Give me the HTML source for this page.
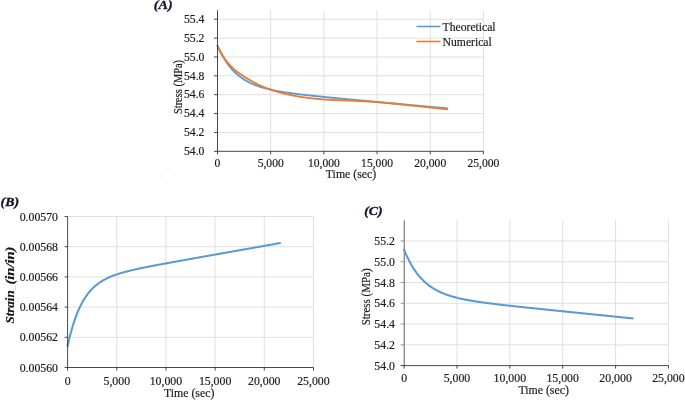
<!DOCTYPE html>
<html><head><meta charset="utf-8"><title>Stress and strain vs time</title>
<style>html,body{margin:0;padding:0;background:#fff;}body{width:685px;height:400px;overflow:hidden;font-family:"Liberation Serif",serif;}svg{display:block;will-change:transform;opacity:0.999}</style>
</head><body>
<svg width="685" height="400" viewBox="0 0 685 400">
<rect width="685" height="400" fill="#fff"/>
<g font-family="'Liberation Serif', serif" fill="#1c1c1c" stroke="#1c1c1c" stroke-width="0.18">
<line x1="270.69" y1="10.21" x2="270.69" y2="151.30" stroke="#dcdcdc" stroke-width="0.9"/>
<line x1="323.88" y1="10.21" x2="323.88" y2="151.30" stroke="#dcdcdc" stroke-width="0.9"/>
<line x1="377.07" y1="10.21" x2="377.07" y2="151.30" stroke="#dcdcdc" stroke-width="0.9"/>
<line x1="430.26" y1="10.21" x2="430.26" y2="151.30" stroke="#dcdcdc" stroke-width="0.9"/>
<line x1="483.45" y1="10.21" x2="483.45" y2="151.30" stroke="#dcdcdc" stroke-width="0.9"/>
<line x1="217.50" y1="132.43" x2="483.45" y2="132.43" stroke="#dcdcdc" stroke-width="0.9"/>
<line x1="217.50" y1="113.56" x2="483.45" y2="113.56" stroke="#dcdcdc" stroke-width="0.9"/>
<line x1="217.50" y1="94.69" x2="483.45" y2="94.69" stroke="#dcdcdc" stroke-width="0.9"/>
<line x1="217.50" y1="75.82" x2="483.45" y2="75.82" stroke="#dcdcdc" stroke-width="0.9"/>
<line x1="217.50" y1="56.95" x2="483.45" y2="56.95" stroke="#dcdcdc" stroke-width="0.9"/>
<line x1="217.50" y1="38.08" x2="483.45" y2="38.08" stroke="#dcdcdc" stroke-width="0.9"/>
<line x1="217.50" y1="19.21" x2="483.45" y2="19.21" stroke="#dcdcdc" stroke-width="0.9"/>
<path d="M217.50,45.91 L218.03,47.10 L218.56,48.26 L219.10,49.38 L219.63,50.48 L220.16,51.55 L220.69,52.59 L221.22,53.60 L221.76,54.58 L222.29,55.54 L222.82,56.48 L223.35,57.39 L223.88,58.28 L224.41,59.14 L224.95,59.98 L225.48,60.80 L226.01,61.60 L226.54,62.38 L227.07,63.14 L227.61,63.87 L228.14,64.59 L228.67,65.29 L229.20,65.98 L229.73,66.64 L230.27,67.29 L230.80,67.92 L231.33,68.54 L231.86,69.14 L232.39,69.72 L232.93,70.30 L233.46,70.85 L233.99,71.39 L234.52,71.92 L235.05,72.44 L235.58,72.94 L236.12,73.43 L236.65,73.91 L237.18,74.37 L237.71,74.83 L238.24,75.27 L238.78,75.71 L239.31,76.13 L239.84,76.54 L240.37,76.94 L240.90,77.33 L241.44,77.72 L241.97,78.09 L242.50,78.45 L243.03,78.81 L243.56,79.16 L244.09,79.50 L244.63,79.83 L245.16,80.15 L245.69,80.47 L246.22,80.78 L246.75,81.08 L247.29,81.37 L247.82,81.66 L248.35,81.94 L248.88,82.22 L249.41,82.49 L249.95,82.75 L250.48,83.00 L251.01,83.26 L251.54,83.50 L252.07,83.74 L252.61,83.98 L253.14,84.20 L253.67,84.43 L254.20,84.65 L254.73,84.86 L255.26,85.07 L255.80,85.28 L256.33,85.48 L256.86,85.68 L257.39,85.87 L257.92,86.06 L258.46,86.25 L258.99,86.43 L259.52,86.61 L260.05,86.78 L260.58,86.95 L261.12,87.12 L261.65,87.29 L262.18,87.45 L262.71,87.61 L263.24,87.76 L263.78,87.91 L264.31,88.06 L264.84,88.21 L265.37,88.35 L265.90,88.50 L266.43,88.63 L266.97,88.77 L267.50,88.90 L268.03,89.04 L268.56,89.17 L269.09,89.29 L269.63,89.42 L270.16,89.54 L270.69,89.66 L271.22,89.78 L271.75,89.90 L272.29,90.01 L272.82,90.13 L273.35,90.24 L273.88,90.35 L274.41,90.45 L274.95,90.56 L275.48,90.67 L276.01,90.77 L276.54,90.87 L277.07,90.97 L277.60,91.07 L278.14,91.17 L278.67,91.26 L279.20,91.36 L279.73,91.45 L280.26,91.54 L280.80,91.64 L281.33,91.73 L281.86,91.81 L282.39,91.90 L282.92,91.99 L283.46,92.07 L283.99,92.16 L284.52,92.24 L285.05,92.33 L285.58,92.41 L286.12,92.49 L286.65,92.57 L287.18,92.65 L287.71,92.73 L288.24,92.80 L288.77,92.88 L289.31,92.96 L289.84,93.03 L290.37,93.11 L290.90,93.18 L291.43,93.25 L291.97,93.32 L292.50,93.40 L293.03,93.47 L293.56,93.54 L294.09,93.61 L294.63,93.68 L295.16,93.75 L295.69,93.81 L296.22,93.88 L296.75,93.95 L297.28,94.02 L297.82,94.08 L298.35,94.15 L298.88,94.21 L299.41,94.28 L299.94,94.34 L300.48,94.41 L301.01,94.47 L301.54,94.53 L302.07,94.59 L302.60,94.66 L303.14,94.72 L303.67,94.78 L304.20,94.84 L304.73,94.90 L305.26,94.96 L305.80,95.02 L306.33,95.08 L306.86,95.14 L307.39,95.20 L307.92,95.26 L308.45,95.32 L308.99,95.38 L309.52,95.44 L310.05,95.49 L310.58,95.55 L311.11,95.61 L311.65,95.67 L312.18,95.72 L312.71,95.78 L313.24,95.84 L313.77,95.89 L314.31,95.95 L314.84,96.01 L315.37,96.06 L315.90,96.12 L316.43,96.17 L316.97,96.23 L317.50,96.28 L318.03,96.34 L318.56,96.39 L319.09,96.45 L319.62,96.50 L320.16,96.55 L320.69,96.61 L321.22,96.66 L321.75,96.72 L322.28,96.77 L322.82,96.82 L323.35,96.88 L323.88,96.93 L324.41,96.98 L324.94,97.04 L325.48,97.09 L326.01,97.14 L326.54,97.19 L327.07,97.25 L327.60,97.30 L328.14,97.35 L328.67,97.40 L329.20,97.46 L329.73,97.51 L330.26,97.56 L330.79,97.61 L331.33,97.66 L331.86,97.72 L332.39,97.77 L332.92,97.82 L333.45,97.87 L333.99,97.92 L334.52,97.97 L335.05,98.02 L335.58,98.07 L336.11,98.13 L336.65,98.18 L337.18,98.23 L337.71,98.28 L338.24,98.33 L338.77,98.38 L339.31,98.43 L339.84,98.48 L340.37,98.53 L340.90,98.58 L341.43,98.63 L341.96,98.68 L342.50,98.73 L343.03,98.79 L343.56,98.84 L344.09,98.89 L344.62,98.94 L345.16,98.99 L345.69,99.04 L346.22,99.09 L346.75,99.14 L347.28,99.19 L347.82,99.24 L348.35,99.29 L348.88,99.34 L349.41,99.39 L349.94,99.44 L350.48,99.49 L351.01,99.54 L351.54,99.59 L352.07,99.64 L352.60,99.69 L353.13,99.74 L353.67,99.79 L354.20,99.83 L354.73,99.88 L355.26,99.93 L355.79,99.98 L356.33,100.03 L356.86,100.08 L357.39,100.13 L357.92,100.18 L358.45,100.23 L358.99,100.28 L359.52,100.33 L360.05,100.38 L360.58,100.43 L361.11,100.48 L361.64,100.53 L362.18,100.58 L362.71,100.63 L363.24,100.68 L363.77,100.73 L364.30,100.77 L364.84,100.82 L365.37,100.87 L365.90,100.92 L366.43,100.97 L366.96,101.02 L367.50,101.07 L368.03,101.12 L368.56,101.17 L369.09,101.22 L369.62,101.27 L370.16,101.32 L370.69,101.37 L371.22,101.41 L371.75,101.46 L372.28,101.51 L372.81,101.56 L373.35,101.61 L373.88,101.66 L374.41,101.71 L374.94,101.76 L375.47,101.81 L376.01,101.86 L376.54,101.91 L377.07,101.95 L377.60,102.00 L378.13,102.05 L378.67,102.10 L379.20,102.15 L379.73,102.20 L380.26,102.25 L380.79,102.30 L381.33,102.35 L381.86,102.40 L382.39,102.44 L382.92,102.49 L383.45,102.54 L383.98,102.59 L384.52,102.64 L385.05,102.69 L385.58,102.74 L386.11,102.79 L386.64,102.84 L387.18,102.89 L387.71,102.93 L388.24,102.98 L388.77,103.03 L389.30,103.08 L389.84,103.13 L390.37,103.18 L390.90,103.23 L391.43,103.28 L391.96,103.33 L392.50,103.37 L393.03,103.42 L393.56,103.47 L394.09,103.52 L394.62,103.57 L395.15,103.62 L395.69,103.67 L396.22,103.72 L396.75,103.77 L397.28,103.81 L397.81,103.86 L398.35,103.91 L398.88,103.96 L399.41,104.01 L399.94,104.06 L400.47,104.11 L401.01,104.16 L401.54,104.21 L402.07,104.25 L402.60,104.30 L403.13,104.35 L403.66,104.40 L404.20,104.45 L404.73,104.50 L405.26,104.55 L405.79,104.60 L406.32,104.65 L406.86,104.69 L407.39,104.74 L407.92,104.79 L408.45,104.84 L408.98,104.89 L409.52,104.94 L410.05,104.99 L410.58,105.04 L411.11,105.08 L411.64,105.13 L412.18,105.18 L412.71,105.23 L413.24,105.28 L413.77,105.33 L414.30,105.38 L414.83,105.43 L415.37,105.48 L415.90,105.52 L416.43,105.57 L416.96,105.62 L417.49,105.67 L418.03,105.72 L418.56,105.77 L419.09,105.82 L419.62,105.87 L420.15,105.91 L420.69,105.96 L421.22,106.01 L421.75,106.06 L422.28,106.11 L422.81,106.16 L423.35,106.21 L423.88,106.26 L424.41,106.30 L424.94,106.35 L425.47,106.40 L426.00,106.45 L426.54,106.50 L427.07,106.55 L427.60,106.60 L428.13,106.65 L428.66,106.70 L429.20,106.74 L429.73,106.79 L430.26,106.84 L430.79,106.89 L431.32,106.94 L431.86,106.99 L432.39,107.04 L432.92,107.09 L433.45,107.13 L433.98,107.18 L434.52,107.23 L435.05,107.28 L435.58,107.33 L436.11,107.38 L436.64,107.43 L437.17,107.48 L437.71,107.52 L438.24,107.57 L438.77,107.62 L439.30,107.67 L439.83,107.72 L440.37,107.77 L440.90,107.82 L441.43,107.87 L441.96,107.92 L442.49,107.96 L443.03,108.01 L443.56,108.06 L444.09,108.11 L444.62,108.16 L445.15,108.21 L445.69,108.26 L446.22,108.31 L446.75,108.35 L447.28,108.40" fill="none" stroke="#5b9bd5" stroke-width="1.9" stroke-linejoin="round" stroke-linecap="round"/>
<path d="M217.50,45.91 L218.03,47.02 L218.56,48.10 L219.10,49.15 L219.63,50.17 L220.16,51.16 L220.69,52.13 L221.22,53.06 L221.76,53.97 L222.29,54.86 L222.82,55.72 L223.35,56.55 L223.88,57.36 L224.41,58.15 L224.95,58.92 L225.48,59.66 L226.01,60.39 L226.54,61.09 L227.07,61.78 L227.61,62.44 L228.14,63.09 L228.67,63.72 L229.20,64.33 L229.73,64.92 L230.27,65.50 L230.80,66.06 L231.33,66.61 L231.86,67.14 L232.39,67.65 L232.93,68.16 L233.46,68.65 L233.99,69.13 L234.52,69.59 L235.05,70.05 L235.58,70.49 L236.12,70.93 L236.65,71.35 L237.18,71.77 L237.71,72.18 L238.24,72.57 L238.78,72.97 L239.31,73.35 L239.84,73.73 L240.37,74.10 L240.90,74.47 L241.44,74.83 L241.97,75.19 L242.50,75.54 L243.03,75.89 L243.56,76.23 L244.09,76.57 L244.63,76.91 L245.16,77.25 L245.69,77.58 L246.22,77.91 L246.75,78.24 L247.29,78.57 L247.82,78.89 L248.35,79.21 L248.88,79.53 L249.41,79.85 L249.95,80.16 L250.48,80.47 L251.01,80.78 L251.54,81.08 L252.07,81.38 L252.61,81.68 L253.14,81.97 L253.67,82.26 L254.20,82.55 L254.73,82.83 L255.26,83.11 L255.80,83.39 L256.33,83.66 L256.86,83.93 L257.39,84.20 L257.92,84.46 L258.46,84.72 L258.99,84.97 L259.52,85.22 L260.05,85.46 L260.58,85.70 L261.12,85.94 L261.65,86.17 L262.18,86.40 L262.71,86.63 L263.24,86.85 L263.78,87.07 L264.31,87.29 L264.84,87.50 L265.37,87.71 L265.90,87.92 L266.43,88.12 L266.97,88.33 L267.50,88.52 L268.03,88.72 L268.56,88.91 L269.09,89.10 L269.63,89.29 L270.16,89.48 L270.69,89.66 L271.22,89.84 L271.75,90.02 L272.29,90.20 L272.82,90.37 L273.35,90.54 L273.88,90.71 L274.41,90.88 L274.95,91.04 L275.48,91.20 L276.01,91.36 L276.54,91.52 L277.07,91.68 L277.60,91.83 L278.14,91.99 L278.67,92.14 L279.20,92.29 L279.73,92.43 L280.26,92.58 L280.80,92.72 L281.33,92.86 L281.86,93.00 L282.39,93.14 L282.92,93.27 L283.46,93.41 L283.99,93.54 L284.52,93.67 L285.05,93.80 L285.58,93.92 L286.12,94.05 L286.65,94.17 L287.18,94.29 L287.71,94.41 L288.24,94.53 L288.77,94.65 L289.31,94.76 L289.84,94.88 L290.37,94.99 L290.90,95.10 L291.43,95.21 L291.97,95.32 L292.50,95.42 L293.03,95.53 L293.56,95.63 L294.09,95.73 L294.63,95.83 L295.16,95.93 L295.69,96.03 L296.22,96.12 L296.75,96.22 L297.28,96.31 L297.82,96.40 L298.35,96.49 L298.88,96.58 L299.41,96.67 L299.94,96.75 L300.48,96.84 L301.01,96.92 L301.54,97.01 L302.07,97.09 L302.60,97.17 L303.14,97.25 L303.67,97.32 L304.20,97.40 L304.73,97.48 L305.26,97.55 L305.80,97.62 L306.33,97.70 L306.86,97.77 L307.39,97.84 L307.92,97.90 L308.45,97.97 L308.99,98.04 L309.52,98.10 L310.05,98.16 L310.58,98.23 L311.11,98.29 L311.65,98.35 L312.18,98.41 L312.71,98.47 L313.24,98.52 L313.77,98.58 L314.31,98.64 L314.84,98.69 L315.37,98.74 L315.90,98.80 L316.43,98.85 L316.97,98.90 L317.50,98.95 L318.03,98.99 L318.56,99.04 L319.09,99.09 L319.62,99.13 L320.16,99.18 L320.69,99.22 L321.22,99.27 L321.75,99.31 L322.28,99.35 L322.82,99.39 L323.35,99.43 L323.88,99.47 L324.41,99.51 L324.94,99.54 L325.48,99.58 L326.01,99.62 L326.54,99.65 L327.07,99.69 L327.60,99.72 L328.14,99.75 L328.67,99.78 L329.20,99.81 L329.73,99.84 L330.26,99.87 L330.79,99.90 L331.33,99.93 L331.86,99.96 L332.39,99.99 L332.92,100.01 L333.45,100.04 L333.99,100.06 L334.52,100.09 L335.05,100.11 L335.58,100.14 L336.11,100.16 L336.65,100.18 L337.18,100.21 L337.71,100.23 L338.24,100.25 L338.77,100.27 L339.31,100.29 L339.84,100.32 L340.37,100.34 L340.90,100.36 L341.43,100.38 L341.96,100.40 L342.50,100.42 L343.03,100.44 L343.56,100.46 L344.09,100.48 L344.62,100.50 L345.16,100.52 L345.69,100.54 L346.22,100.55 L346.75,100.57 L347.28,100.59 L347.82,100.61 L348.35,100.63 L348.88,100.65 L349.41,100.67 L349.94,100.69 L350.48,100.71 L351.01,100.73 L351.54,100.75 L352.07,100.77 L352.60,100.80 L353.13,100.82 L353.67,100.84 L354.20,100.86 L354.73,100.88 L355.26,100.90 L355.79,100.93 L356.33,100.95 L356.86,100.97 L357.39,101.00 L357.92,101.02 L358.45,101.04 L358.99,101.07 L359.52,101.09 L360.05,101.12 L360.58,101.14 L361.11,101.17 L361.64,101.20 L362.18,101.22 L362.71,101.25 L363.24,101.28 L363.77,101.30 L364.30,101.33 L364.84,101.36 L365.37,101.39 L365.90,101.42 L366.43,101.45 L366.96,101.48 L367.50,101.51 L368.03,101.54 L368.56,101.57 L369.09,101.60 L369.62,101.63 L370.16,101.67 L370.69,101.70 L371.22,101.73 L371.75,101.77 L372.28,101.80 L372.81,101.84 L373.35,101.88 L373.88,101.91 L374.41,101.95 L374.94,101.99 L375.47,102.03 L376.01,102.06 L376.54,102.10 L377.07,102.14 L377.60,102.18 L378.13,102.23 L378.67,102.27 L379.20,102.31 L379.73,102.35 L380.26,102.40 L380.79,102.44 L381.33,102.48 L381.86,102.53 L382.39,102.57 L382.92,102.62 L383.45,102.67 L383.98,102.71 L384.52,102.76 L385.05,102.81 L385.58,102.86 L386.11,102.91 L386.64,102.96 L387.18,103.01 L387.71,103.06 L388.24,103.11 L388.77,103.16 L389.30,103.21 L389.84,103.26 L390.37,103.31 L390.90,103.36 L391.43,103.42 L391.96,103.47 L392.50,103.52 L393.03,103.58 L393.56,103.63 L394.09,103.68 L394.62,103.74 L395.15,103.79 L395.69,103.85 L396.22,103.90 L396.75,103.96 L397.28,104.01 L397.81,104.07 L398.35,104.13 L398.88,104.18 L399.41,104.24 L399.94,104.29 L400.47,104.35 L401.01,104.41 L401.54,104.46 L402.07,104.52 L402.60,104.58 L403.13,104.64 L403.66,104.69 L404.20,104.75 L404.73,104.81 L405.26,104.86 L405.79,104.92 L406.32,104.98 L406.86,105.04 L407.39,105.09 L407.92,105.15 L408.45,105.21 L408.98,105.27 L409.52,105.32 L410.05,105.38 L410.58,105.44 L411.11,105.50 L411.64,105.55 L412.18,105.61 L412.71,105.67 L413.24,105.73 L413.77,105.78 L414.30,105.84 L414.83,105.90 L415.37,105.95 L415.90,106.01 L416.43,106.07 L416.96,106.12 L417.49,106.18 L418.03,106.24 L418.56,106.30 L419.09,106.35 L419.62,106.41 L420.15,106.47 L420.69,106.52 L421.22,106.58 L421.75,106.64 L422.28,106.69 L422.81,106.75 L423.35,106.81 L423.88,106.86 L424.41,106.92 L424.94,106.98 L425.47,107.03 L426.00,107.09 L426.54,107.15 L427.07,107.20 L427.60,107.26 L428.13,107.32 L428.66,107.37 L429.20,107.43 L429.73,107.49 L430.26,107.54 L430.79,107.60 L431.32,107.66 L431.86,107.71 L432.39,107.77 L432.92,107.83 L433.45,107.88 L433.98,107.94 L434.52,107.99 L435.05,108.05 L435.58,108.11 L436.11,108.16 L436.64,108.22 L437.17,108.28 L437.71,108.33 L438.24,108.39 L438.77,108.45 L439.30,108.50 L439.83,108.56 L440.37,108.61 L440.90,108.67 L441.43,108.73 L441.96,108.78 L442.49,108.84 L443.03,108.90 L443.56,108.95 L444.09,109.01 L444.62,109.07 L445.15,109.12 L445.69,109.18 L446.22,109.23 L446.75,109.29 L447.28,109.35" fill="none" stroke="#ed7d31" stroke-width="1.85" stroke-linejoin="round" stroke-linecap="round"/>
<line x1="217.50" y1="10.21" x2="217.50" y2="151.70" stroke="#333" stroke-width="0.9"/>
<line x1="214.00" y1="151.30" x2="483.45" y2="151.30" stroke="#333" stroke-width="0.9"/>
<line x1="217.50" y1="151.30" x2="217.50" y2="154.30" stroke="#333" stroke-width="0.9"/>
<text x="217.50" y="167.0" font-size="11.6" text-anchor="middle">0</text>
<line x1="270.69" y1="151.30" x2="270.69" y2="154.30" stroke="#333" stroke-width="0.9"/>
<text x="270.69" y="167.0" font-size="11.6" text-anchor="middle">5,000</text>
<line x1="323.88" y1="151.30" x2="323.88" y2="154.30" stroke="#333" stroke-width="0.9"/>
<text x="323.88" y="167.0" font-size="11.6" text-anchor="middle">10,000</text>
<line x1="377.07" y1="151.30" x2="377.07" y2="154.30" stroke="#333" stroke-width="0.9"/>
<text x="377.07" y="167.0" font-size="11.6" text-anchor="middle">15,000</text>
<line x1="430.26" y1="151.30" x2="430.26" y2="154.30" stroke="#333" stroke-width="0.9"/>
<text x="430.26" y="167.0" font-size="11.6" text-anchor="middle">20,000</text>
<line x1="483.45" y1="151.30" x2="483.45" y2="154.30" stroke="#333" stroke-width="0.9"/>
<text x="483.45" y="167.0" font-size="11.6" text-anchor="middle">25,000</text>
<line x1="214.00" y1="132.43" x2="217.50" y2="132.43" stroke="#333" stroke-width="0.9"/>
<line x1="214.00" y1="113.56" x2="217.50" y2="113.56" stroke="#333" stroke-width="0.9"/>
<line x1="214.00" y1="94.69" x2="217.50" y2="94.69" stroke="#333" stroke-width="0.9"/>
<line x1="214.00" y1="75.82" x2="217.50" y2="75.82" stroke="#333" stroke-width="0.9"/>
<line x1="214.00" y1="56.95" x2="217.50" y2="56.95" stroke="#333" stroke-width="0.9"/>
<line x1="214.00" y1="38.08" x2="217.50" y2="38.08" stroke="#333" stroke-width="0.9"/>
<line x1="214.00" y1="19.21" x2="217.50" y2="19.21" stroke="#333" stroke-width="0.9"/>
<text x="204.4" y="155.10" font-size="11.7" text-anchor="end">54.0</text>
<text x="204.4" y="136.23" font-size="11.7" text-anchor="end">54.2</text>
<text x="204.4" y="117.36" font-size="11.7" text-anchor="end">54.4</text>
<text x="204.4" y="98.49" font-size="11.7" text-anchor="end">54.6</text>
<text x="204.4" y="79.62" font-size="11.7" text-anchor="end">54.8</text>
<text x="204.4" y="60.75" font-size="11.7" text-anchor="end">55.0</text>
<text x="204.4" y="41.88" font-size="11.7" text-anchor="end">55.2</text>
<text x="204.4" y="23.01" font-size="11.7" text-anchor="end">55.4</text>
<text x="351" y="177.8" font-size="11.8" text-anchor="middle">Time (sec)</text>
<text transform="translate(182.1,87) rotate(-90) scale(0.9,1)" font-size="11.6" text-anchor="middle">Stress (MPa)</text>
<line x1="416.5" y1="26.5" x2="440.5" y2="26.5" stroke="#5b9bd5" stroke-width="1.6"/>
<line x1="416.5" y1="41.5" x2="440.5" y2="41.5" stroke="#ed7d31" stroke-width="1.6"/>
<text x="442.6" y="30.5" font-size="11.65">Theoretical</text>
<text x="442.6" y="45.5" font-size="11.65">Numerical</text>
<text transform="translate(153.8,9.0) scale(1.13,1)" font-size="12.5" font-weight="bold" font-style="italic" fill="#141a30" stroke="#141a30" stroke-width="0.35">(A)</text>
<line x1="116.77" y1="216.50" x2="116.77" y2="367.50" stroke="#dcdcdc" stroke-width="0.9"/>
<line x1="165.94" y1="216.50" x2="165.94" y2="367.50" stroke="#dcdcdc" stroke-width="0.9"/>
<line x1="215.11" y1="216.50" x2="215.11" y2="367.50" stroke="#dcdcdc" stroke-width="0.9"/>
<line x1="264.28" y1="216.50" x2="264.28" y2="367.50" stroke="#dcdcdc" stroke-width="0.9"/>
<line x1="313.45" y1="216.50" x2="313.45" y2="367.50" stroke="#dcdcdc" stroke-width="0.9"/>
<line x1="67.60" y1="337.30" x2="313.45" y2="337.30" stroke="#dcdcdc" stroke-width="0.9"/>
<line x1="67.60" y1="307.10" x2="313.45" y2="307.10" stroke="#dcdcdc" stroke-width="0.9"/>
<line x1="67.60" y1="276.90" x2="313.45" y2="276.90" stroke="#dcdcdc" stroke-width="0.9"/>
<line x1="67.60" y1="246.70" x2="313.45" y2="246.70" stroke="#dcdcdc" stroke-width="0.9"/>
<line x1="67.60" y1="216.50" x2="313.45" y2="216.50" stroke="#dcdcdc" stroke-width="0.9"/>
<path d="M67.60,346.06 L68.09,343.84 L68.58,341.70 L69.08,339.62 L69.57,337.61 L70.06,335.66 L70.55,333.77 L71.04,331.94 L71.53,330.16 L72.03,328.44 L72.52,326.78 L73.01,325.16 L73.50,323.60 L73.99,322.08 L74.48,320.61 L74.98,319.18 L75.47,317.80 L75.96,316.46 L76.45,315.17 L76.94,313.91 L77.43,312.68 L77.93,311.50 L78.42,310.35 L78.91,309.24 L79.40,308.16 L79.89,307.11 L80.38,306.09 L80.88,305.11 L81.37,304.15 L81.86,303.22 L82.35,302.32 L82.84,301.44 L83.33,300.60 L83.83,299.77 L84.32,298.97 L84.81,298.19 L85.30,297.44 L85.79,296.71 L86.28,295.99 L86.78,295.30 L87.27,294.63 L87.76,293.98 L88.25,293.34 L88.74,292.73 L89.23,292.13 L89.73,291.54 L90.22,290.98 L90.71,290.43 L91.20,289.89 L91.69,289.37 L92.19,288.86 L92.68,288.37 L93.17,287.89 L93.66,287.42 L94.15,286.97 L94.64,286.52 L95.14,286.09 L95.63,285.67 L96.12,285.26 L96.61,284.86 L97.10,284.47 L97.59,284.10 L98.09,283.73 L98.58,283.37 L99.07,283.01 L99.56,282.67 L100.05,282.34 L100.54,282.01 L101.04,281.69 L101.53,281.38 L102.02,281.08 L102.51,280.78 L103.00,280.49 L103.49,280.21 L103.99,279.93 L104.48,279.66 L104.97,279.40 L105.46,279.14 L105.95,278.88 L106.44,278.64 L106.94,278.39 L107.43,278.16 L107.92,277.92 L108.41,277.69 L108.90,277.47 L109.39,277.25 L109.89,277.04 L110.38,276.83 L110.87,276.62 L111.36,276.42 L111.85,276.22 L112.34,276.02 L112.84,275.83 L113.33,275.64 L113.82,275.46 L114.31,275.28 L114.80,275.10 L115.29,274.92 L115.79,274.75 L116.28,274.58 L116.77,274.41 L117.26,274.25 L117.75,274.09 L118.25,273.93 L118.74,273.77 L119.23,273.61 L119.72,273.46 L120.21,273.31 L120.70,273.16 L121.20,273.01 L121.69,272.87 L122.18,272.73 L122.67,272.58 L123.16,272.45 L123.65,272.31 L124.15,272.17 L124.64,272.04 L125.13,271.90 L125.62,271.77 L126.11,271.64 L126.60,271.51 L127.10,271.39 L127.59,271.26 L128.08,271.14 L128.57,271.01 L129.06,270.89 L129.55,270.77 L130.05,270.65 L130.54,270.53 L131.03,270.41 L131.52,270.30 L132.01,270.18 L132.50,270.07 L133.00,269.95 L133.49,269.84 L133.98,269.73 L134.47,269.61 L134.96,269.50 L135.45,269.39 L135.95,269.28 L136.44,269.18 L136.93,269.07 L137.42,268.96 L137.91,268.85 L138.40,268.75 L138.90,268.64 L139.39,268.54 L139.88,268.43 L140.37,268.33 L140.86,268.23 L141.36,268.12 L141.85,268.02 L142.34,267.92 L142.83,267.82 L143.32,267.72 L143.81,267.62 L144.31,267.52 L144.80,267.42 L145.29,267.32 L145.78,267.22 L146.27,267.12 L146.76,267.03 L147.26,266.93 L147.75,266.83 L148.24,266.74 L148.73,266.64 L149.22,266.54 L149.71,266.45 L150.21,266.35 L150.70,266.26 L151.19,266.16 L151.68,266.07 L152.17,265.97 L152.66,265.88 L153.16,265.78 L153.65,265.69 L154.14,265.60 L154.63,265.50 L155.12,265.41 L155.61,265.32 L156.11,265.22 L156.60,265.13 L157.09,265.04 L157.58,264.94 L158.07,264.85 L158.56,264.76 L159.06,264.67 L159.55,264.58 L160.04,264.49 L160.53,264.39 L161.02,264.30 L161.51,264.21 L162.01,264.12 L162.50,264.03 L162.99,263.94 L163.48,263.85 L163.97,263.76 L164.46,263.67 L164.96,263.58 L165.45,263.49 L165.94,263.40 L166.43,263.31 L166.92,263.22 L167.42,263.13 L167.91,263.04 L168.40,262.95 L168.89,262.86 L169.38,262.77 L169.87,262.68 L170.37,262.59 L170.86,262.50 L171.35,262.41 L171.84,262.32 L172.33,262.23 L172.82,262.14 L173.32,262.05 L173.81,261.97 L174.30,261.88 L174.79,261.79 L175.28,261.70 L175.77,261.61 L176.27,261.52 L176.76,261.43 L177.25,261.34 L177.74,261.26 L178.23,261.17 L178.72,261.08 L179.22,260.99 L179.71,260.90 L180.20,260.81 L180.69,260.73 L181.18,260.64 L181.67,260.55 L182.17,260.46 L182.66,260.37 L183.15,260.29 L183.64,260.20 L184.13,260.11 L184.62,260.02 L185.12,259.93 L185.61,259.85 L186.10,259.76 L186.59,259.67 L187.08,259.58 L187.57,259.49 L188.07,259.41 L188.56,259.32 L189.05,259.23 L189.54,259.14 L190.03,259.05 L190.53,258.97 L191.02,258.88 L191.51,258.79 L192.00,258.70 L192.49,258.62 L192.98,258.53 L193.48,258.44 L193.97,258.35 L194.46,258.26 L194.95,258.18 L195.44,258.09 L195.93,258.00 L196.43,257.91 L196.92,257.83 L197.41,257.74 L197.90,257.65 L198.39,257.56 L198.88,257.48 L199.38,257.39 L199.87,257.30 L200.36,257.21 L200.85,257.13 L201.34,257.04 L201.83,256.95 L202.33,256.86 L202.82,256.78 L203.31,256.69 L203.80,256.60 L204.29,256.51 L204.78,256.43 L205.28,256.34 L205.77,256.25 L206.26,256.17 L206.75,256.08 L207.24,255.99 L207.73,255.90 L208.23,255.82 L208.72,255.73 L209.21,255.64 L209.70,255.55 L210.19,255.47 L210.68,255.38 L211.18,255.29 L211.67,255.20 L212.16,255.12 L212.65,255.03 L213.14,254.94 L213.63,254.85 L214.13,254.77 L214.62,254.68 L215.11,254.59 L215.60,254.51 L216.09,254.42 L216.59,254.33 L217.08,254.24 L217.57,254.16 L218.06,254.07 L218.55,253.98 L219.04,253.89 L219.54,253.81 L220.03,253.72 L220.52,253.63 L221.01,253.55 L221.50,253.46 L221.99,253.37 L222.49,253.28 L222.98,253.20 L223.47,253.11 L223.96,253.02 L224.45,252.93 L224.94,252.85 L225.44,252.76 L225.93,252.67 L226.42,252.59 L226.91,252.50 L227.40,252.41 L227.89,252.32 L228.39,252.24 L228.88,252.15 L229.37,252.06 L229.86,251.97 L230.35,251.89 L230.84,251.80 L231.34,251.71 L231.83,251.63 L232.32,251.54 L232.81,251.45 L233.30,251.36 L233.79,251.28 L234.29,251.19 L234.78,251.10 L235.27,251.02 L235.76,250.93 L236.25,250.84 L236.74,250.75 L237.24,250.67 L237.73,250.58 L238.22,250.49 L238.71,250.40 L239.20,250.32 L239.69,250.23 L240.19,250.14 L240.68,250.06 L241.17,249.97 L241.66,249.88 L242.15,249.79 L242.65,249.71 L243.14,249.62 L243.63,249.53 L244.12,249.45 L244.61,249.36 L245.10,249.27 L245.60,249.18 L246.09,249.10 L246.58,249.01 L247.07,248.92 L247.56,248.83 L248.05,248.75 L248.55,248.66 L249.04,248.57 L249.53,248.49 L250.02,248.40 L250.51,248.31 L251.00,248.22 L251.50,248.14 L251.99,248.05 L252.48,247.96 L252.97,247.88 L253.46,247.79 L253.95,247.70 L254.45,247.61 L254.94,247.53 L255.43,247.44 L255.92,247.35 L256.41,247.26 L256.90,247.18 L257.40,247.09 L257.89,247.00 L258.38,246.92 L258.87,246.83 L259.36,246.74 L259.85,246.65 L260.35,246.57 L260.84,246.48 L261.33,246.39 L261.82,246.31 L262.31,246.22 L262.80,246.13 L263.30,246.04 L263.79,245.96 L264.28,245.87 L264.77,245.78 L265.26,245.70 L265.76,245.61 L266.25,245.52 L266.74,245.43 L267.23,245.35 L267.72,245.26 L268.21,245.17 L268.71,245.08 L269.20,245.00 L269.69,244.91 L270.18,244.82 L270.67,244.74 L271.16,244.65 L271.66,244.56 L272.15,244.47 L272.64,244.39 L273.13,244.30 L273.62,244.21 L274.11,244.13 L274.61,244.04 L275.10,243.95 L275.59,243.86 L276.08,243.78 L276.57,243.69 L277.06,243.60 L277.56,243.52 L278.05,243.43 L278.54,243.34 L279.03,243.25 L279.52,243.17 L280.01,243.08" fill="none" stroke="#5b9bd5" stroke-width="2.05" stroke-linejoin="round" stroke-linecap="round"/>
<line x1="67.60" y1="216.50" x2="67.60" y2="367.90" stroke="#333" stroke-width="0.9"/>
<line x1="64.60" y1="367.50" x2="313.45" y2="367.50" stroke="#333" stroke-width="0.9"/>
<line x1="67.60" y1="367.50" x2="67.60" y2="370.50" stroke="#333" stroke-width="0.9"/>
<text x="67.60" y="384.8" font-size="11.8" text-anchor="middle">0</text>
<line x1="116.77" y1="367.50" x2="116.77" y2="370.50" stroke="#333" stroke-width="0.9"/>
<text x="116.77" y="384.8" font-size="11.8" text-anchor="middle">5,000</text>
<line x1="165.94" y1="367.50" x2="165.94" y2="370.50" stroke="#333" stroke-width="0.9"/>
<text x="165.94" y="384.8" font-size="11.8" text-anchor="middle">10,000</text>
<line x1="215.11" y1="367.50" x2="215.11" y2="370.50" stroke="#333" stroke-width="0.9"/>
<text x="215.11" y="384.8" font-size="11.8" text-anchor="middle">15,000</text>
<line x1="264.28" y1="367.50" x2="264.28" y2="370.50" stroke="#333" stroke-width="0.9"/>
<text x="264.28" y="384.8" font-size="11.8" text-anchor="middle">20,000</text>
<line x1="313.45" y1="367.50" x2="313.45" y2="370.50" stroke="#333" stroke-width="0.9"/>
<text x="313.45" y="384.8" font-size="11.8" text-anchor="middle">25,000</text>
<text x="58.0" y="371.50" font-size="11.8" text-anchor="end">0.00560</text>
<line x1="64.60" y1="337.30" x2="67.60" y2="337.30" stroke="#333" stroke-width="0.9"/>
<text x="58.0" y="341.30" font-size="11.8" text-anchor="end">0.00562</text>
<line x1="64.60" y1="307.10" x2="67.60" y2="307.10" stroke="#333" stroke-width="0.9"/>
<text x="58.0" y="311.10" font-size="11.8" text-anchor="end">0.00564</text>
<line x1="64.60" y1="276.90" x2="67.60" y2="276.90" stroke="#333" stroke-width="0.9"/>
<text x="58.0" y="280.90" font-size="11.8" text-anchor="end">0.00566</text>
<line x1="64.60" y1="246.70" x2="67.60" y2="246.70" stroke="#333" stroke-width="0.9"/>
<text x="58.0" y="250.70" font-size="11.8" text-anchor="end">0.00568</text>
<line x1="64.60" y1="216.50" x2="67.60" y2="216.50" stroke="#333" stroke-width="0.9"/>
<text x="58.0" y="220.50" font-size="11.8" text-anchor="end">0.00570</text>
<text x="189.2" y="396.6" font-size="11.8" text-anchor="middle">Time (sec)</text>
<text transform="translate(13.6,323.6) rotate(-90)" font-size="13" font-weight="bold" font-style="italic" fill="#111">Strain</text>
<text transform="translate(14.2,284.6) rotate(-90)" font-size="13.5" font-weight="bold" font-style="italic" fill="#111" textLength="38" lengthAdjust="spacingAndGlyphs">(in/in)</text>
<line x1="15.6" y1="285.3" x2="15.6" y2="290" stroke="#bbb" stroke-width="0.6"/>
<text transform="translate(0.6,206.2) scale(1.1,1)" font-size="12.6" font-weight="bold" font-style="italic" fill="#101426" stroke="#101426" stroke-width="0.35">(B)</text>
<line x1="456.97" y1="220.00" x2="456.97" y2="365.60" stroke="#dcdcdc" stroke-width="0.9"/>
<line x1="509.84" y1="220.00" x2="509.84" y2="365.60" stroke="#dcdcdc" stroke-width="0.9"/>
<line x1="562.71" y1="220.00" x2="562.71" y2="365.60" stroke="#dcdcdc" stroke-width="0.9"/>
<line x1="615.58" y1="220.00" x2="615.58" y2="365.60" stroke="#dcdcdc" stroke-width="0.9"/>
<line x1="668.45" y1="220.00" x2="668.45" y2="365.60" stroke="#dcdcdc" stroke-width="0.9"/>
<line x1="404.10" y1="344.83" x2="668.45" y2="344.83" stroke="#dcdcdc" stroke-width="0.9"/>
<line x1="404.10" y1="324.06" x2="668.45" y2="324.06" stroke="#dcdcdc" stroke-width="0.9"/>
<line x1="404.10" y1="303.29" x2="668.45" y2="303.29" stroke="#dcdcdc" stroke-width="0.9"/>
<line x1="404.10" y1="282.52" x2="668.45" y2="282.52" stroke="#dcdcdc" stroke-width="0.9"/>
<line x1="404.10" y1="261.75" x2="668.45" y2="261.75" stroke="#dcdcdc" stroke-width="0.9"/>
<line x1="404.10" y1="240.98" x2="668.45" y2="240.98" stroke="#dcdcdc" stroke-width="0.9"/>
<path d="M404.10,249.60 L404.63,250.91 L405.16,252.18 L405.69,253.42 L406.21,254.63 L406.74,255.80 L407.27,256.95 L407.80,258.06 L408.33,259.15 L408.86,260.20 L409.39,261.23 L409.92,262.23 L410.44,263.21 L410.97,264.16 L411.50,265.09 L412.03,265.99 L412.56,266.87 L413.09,267.72 L413.62,268.56 L414.15,269.37 L414.67,270.16 L415.20,270.93 L415.73,271.69 L416.26,272.42 L416.79,273.13 L417.32,273.83 L417.85,274.51 L418.37,275.17 L418.90,275.81 L419.43,276.44 L419.96,277.05 L420.49,277.65 L421.02,278.23 L421.55,278.80 L422.08,279.35 L422.60,279.89 L423.13,280.42 L423.66,280.93 L424.19,281.43 L424.72,281.92 L425.25,282.39 L425.78,282.86 L426.31,283.31 L426.83,283.75 L427.36,284.19 L427.89,284.61 L428.42,285.02 L428.95,285.42 L429.48,285.81 L430.01,286.19 L430.54,286.57 L431.06,286.93 L431.59,287.29 L432.12,287.64 L432.65,287.98 L433.18,288.31 L433.71,288.63 L434.24,288.95 L434.76,289.26 L435.29,289.56 L435.82,289.86 L436.35,290.15 L436.88,290.43 L437.41,290.70 L437.94,290.97 L438.47,291.24 L438.99,291.50 L439.52,291.75 L440.05,292.00 L440.58,292.24 L441.11,292.47 L441.64,292.71 L442.17,292.93 L442.70,293.16 L443.22,293.37 L443.75,293.59 L444.28,293.79 L444.81,294.00 L445.34,294.20 L445.87,294.39 L446.40,294.59 L446.92,294.78 L447.45,294.96 L447.98,295.14 L448.51,295.32 L449.04,295.49 L449.57,295.66 L450.10,295.83 L450.63,296.00 L451.15,296.16 L451.68,296.32 L452.21,296.47 L452.74,296.62 L453.27,296.77 L453.80,296.92 L454.33,297.07 L454.86,297.21 L455.38,297.35 L455.91,297.49 L456.44,297.62 L456.97,297.75 L457.50,297.89 L458.03,298.01 L458.56,298.14 L459.08,298.27 L459.61,298.39 L460.14,298.51 L460.67,298.63 L461.20,298.74 L461.73,298.86 L462.26,298.97 L462.79,299.09 L463.31,299.20 L463.84,299.31 L464.37,299.41 L464.90,299.52 L465.43,299.62 L465.96,299.73 L466.49,299.83 L467.02,299.93 L467.54,300.03 L468.07,300.13 L468.60,300.22 L469.13,300.32 L469.66,300.41 L470.19,300.50 L470.72,300.60 L471.24,300.69 L471.77,300.78 L472.30,300.87 L472.83,300.95 L473.36,301.04 L473.89,301.13 L474.42,301.21 L474.95,301.30 L475.47,301.38 L476.00,301.46 L476.53,301.55 L477.06,301.63 L477.59,301.71 L478.12,301.79 L478.65,301.87 L479.18,301.94 L479.70,302.02 L480.23,302.10 L480.76,302.18 L481.29,302.25 L481.82,302.33 L482.35,302.40 L482.88,302.47 L483.41,302.55 L483.93,302.62 L484.46,302.69 L484.99,302.76 L485.52,302.84 L486.05,302.91 L486.58,302.98 L487.11,303.05 L487.63,303.12 L488.16,303.19 L488.69,303.25 L489.22,303.32 L489.75,303.39 L490.28,303.46 L490.81,303.52 L491.34,303.59 L491.86,303.66 L492.39,303.72 L492.92,303.79 L493.45,303.85 L493.98,303.92 L494.51,303.98 L495.04,304.05 L495.57,304.11 L496.09,304.18 L496.62,304.24 L497.15,304.30 L497.68,304.37 L498.21,304.43 L498.74,304.49 L499.27,304.55 L499.79,304.61 L500.32,304.68 L500.85,304.74 L501.38,304.80 L501.91,304.86 L502.44,304.92 L502.97,304.98 L503.50,305.04 L504.02,305.10 L504.55,305.16 L505.08,305.22 L505.61,305.28 L506.14,305.34 L506.67,305.40 L507.20,305.46 L507.73,305.52 L508.25,305.58 L508.78,305.64 L509.31,305.70 L509.84,305.76 L510.37,305.81 L510.90,305.87 L511.43,305.93 L511.95,305.99 L512.48,306.05 L513.01,306.10 L513.54,306.16 L514.07,306.22 L514.60,306.28 L515.13,306.33 L515.66,306.39 L516.18,306.45 L516.71,306.51 L517.24,306.56 L517.77,306.62 L518.30,306.68 L518.83,306.73 L519.36,306.79 L519.89,306.85 L520.41,306.90 L520.94,306.96 L521.47,307.02 L522.00,307.07 L522.53,307.13 L523.06,307.18 L523.59,307.24 L524.11,307.30 L524.64,307.35 L525.17,307.41 L525.70,307.46 L526.23,307.52 L526.76,307.58 L527.29,307.63 L527.82,307.69 L528.34,307.74 L528.87,307.80 L529.40,307.85 L529.93,307.91 L530.46,307.96 L530.99,308.02 L531.52,308.07 L532.05,308.13 L532.57,308.18 L533.10,308.24 L533.63,308.29 L534.16,308.35 L534.69,308.40 L535.22,308.46 L535.75,308.51 L536.28,308.57 L536.80,308.62 L537.33,308.68 L537.86,308.73 L538.39,308.79 L538.92,308.84 L539.45,308.90 L539.98,308.95 L540.50,309.01 L541.03,309.06 L541.56,309.12 L542.09,309.17 L542.62,309.23 L543.15,309.28 L543.68,309.34 L544.21,309.39 L544.73,309.44 L545.26,309.50 L545.79,309.55 L546.32,309.61 L546.85,309.66 L547.38,309.72 L547.91,309.77 L548.44,309.82 L548.96,309.88 L549.49,309.93 L550.02,309.99 L550.55,310.04 L551.08,310.10 L551.61,310.15 L552.14,310.20 L552.66,310.26 L553.19,310.31 L553.72,310.37 L554.25,310.42 L554.78,310.48 L555.31,310.53 L555.84,310.58 L556.37,310.64 L556.89,310.69 L557.42,310.75 L557.95,310.80 L558.48,310.85 L559.01,310.91 L559.54,310.96 L560.07,311.02 L560.60,311.07 L561.12,311.12 L561.65,311.18 L562.18,311.23 L562.71,311.29 L563.24,311.34 L563.77,311.39 L564.30,311.45 L564.82,311.50 L565.35,311.56 L565.88,311.61 L566.41,311.66 L566.94,311.72 L567.47,311.77 L568.00,311.83 L568.53,311.88 L569.05,311.93 L569.58,311.99 L570.11,312.04 L570.64,312.10 L571.17,312.15 L571.70,312.20 L572.23,312.26 L572.76,312.31 L573.28,312.36 L573.81,312.42 L574.34,312.47 L574.87,312.53 L575.40,312.58 L575.93,312.63 L576.46,312.69 L576.98,312.74 L577.51,312.80 L578.04,312.85 L578.57,312.90 L579.10,312.96 L579.63,313.01 L580.16,313.06 L580.69,313.12 L581.21,313.17 L581.74,313.23 L582.27,313.28 L582.80,313.33 L583.33,313.39 L583.86,313.44 L584.39,313.49 L584.92,313.55 L585.44,313.60 L585.97,313.66 L586.50,313.71 L587.03,313.76 L587.56,313.82 L588.09,313.87 L588.62,313.92 L589.14,313.98 L589.67,314.03 L590.20,314.09 L590.73,314.14 L591.26,314.19 L591.79,314.25 L592.32,314.30 L592.85,314.36 L593.37,314.41 L593.90,314.46 L594.43,314.52 L594.96,314.57 L595.49,314.62 L596.02,314.68 L596.55,314.73 L597.08,314.78 L597.60,314.84 L598.13,314.89 L598.66,314.95 L599.19,315.00 L599.72,315.05 L600.25,315.11 L600.78,315.16 L601.31,315.21 L601.83,315.27 L602.36,315.32 L602.89,315.38 L603.42,315.43 L603.95,315.48 L604.48,315.54 L605.01,315.59 L605.53,315.64 L606.06,315.70 L606.59,315.75 L607.12,315.81 L607.65,315.86 L608.18,315.91 L608.71,315.97 L609.24,316.02 L609.76,316.07 L610.29,316.13 L610.82,316.18 L611.35,316.24 L611.88,316.29 L612.41,316.34 L612.94,316.40 L613.47,316.45 L613.99,316.50 L614.52,316.56 L615.05,316.61 L615.58,316.67 L616.11,316.72 L616.64,316.77 L617.17,316.83 L617.69,316.88 L618.22,316.93 L618.75,316.99 L619.28,317.04 L619.81,317.09 L620.34,317.15 L620.87,317.20 L621.40,317.26 L621.92,317.31 L622.45,317.36 L622.98,317.42 L623.51,317.47 L624.04,317.52 L624.57,317.58 L625.10,317.63 L625.63,317.69 L626.15,317.74 L626.68,317.79 L627.21,317.85 L627.74,317.90 L628.27,317.95 L628.80,318.01 L629.33,318.06 L629.85,318.12 L630.38,318.17 L630.91,318.22 L631.44,318.28 L631.97,318.33 L632.50,318.38" fill="none" stroke="#5b9bd5" stroke-width="2.05" stroke-linejoin="round" stroke-linecap="round"/>
<line x1="404.30" y1="220.30" x2="404.30" y2="366.10" stroke="#868686" stroke-width="1.3"/>
<line x1="400.60" y1="365.60" x2="668.45" y2="365.60" stroke="#333" stroke-width="0.9"/>
<line x1="404.10" y1="365.60" x2="404.10" y2="368.60" stroke="#333" stroke-width="0.9"/>
<text x="404.10" y="382.4" font-size="11.8" text-anchor="middle">0</text>
<line x1="456.97" y1="365.60" x2="456.97" y2="368.60" stroke="#333" stroke-width="0.9"/>
<text x="456.97" y="382.4" font-size="11.8" text-anchor="middle">5,000</text>
<line x1="509.84" y1="365.60" x2="509.84" y2="368.60" stroke="#333" stroke-width="0.9"/>
<text x="509.84" y="382.4" font-size="11.8" text-anchor="middle">10,000</text>
<line x1="562.71" y1="365.60" x2="562.71" y2="368.60" stroke="#333" stroke-width="0.9"/>
<text x="562.71" y="382.4" font-size="11.8" text-anchor="middle">15,000</text>
<line x1="615.58" y1="365.60" x2="615.58" y2="368.60" stroke="#333" stroke-width="0.9"/>
<text x="615.58" y="382.4" font-size="11.8" text-anchor="middle">20,000</text>
<line x1="668.45" y1="365.60" x2="668.45" y2="368.60" stroke="#333" stroke-width="0.9"/>
<text x="668.45" y="382.4" font-size="11.8" text-anchor="middle">25,000</text>
<text x="395" y="369.60" font-size="11.8" text-anchor="end">54.0</text>
<line x1="400.60" y1="344.83" x2="404.10" y2="344.83" stroke="#868686" stroke-width="0.9"/>
<text x="395" y="348.83" font-size="11.8" text-anchor="end">54.2</text>
<line x1="400.60" y1="324.06" x2="404.10" y2="324.06" stroke="#868686" stroke-width="0.9"/>
<text x="395" y="328.06" font-size="11.8" text-anchor="end">54.4</text>
<line x1="400.60" y1="303.29" x2="404.10" y2="303.29" stroke="#868686" stroke-width="0.9"/>
<text x="395" y="307.29" font-size="11.8" text-anchor="end">54.6</text>
<line x1="400.60" y1="282.52" x2="404.10" y2="282.52" stroke="#868686" stroke-width="0.9"/>
<text x="395" y="286.52" font-size="11.8" text-anchor="end">54.8</text>
<line x1="400.60" y1="261.75" x2="404.10" y2="261.75" stroke="#868686" stroke-width="0.9"/>
<text x="395" y="265.75" font-size="11.8" text-anchor="end">55.0</text>
<line x1="400.60" y1="240.98" x2="404.10" y2="240.98" stroke="#868686" stroke-width="0.9"/>
<text x="395" y="244.98" font-size="11.8" text-anchor="end">55.2</text>
<text x="543.7" y="393.8" font-size="11.8" text-anchor="middle">Time (sec)</text>
<text transform="translate(369.7,296.9) rotate(-90) scale(0.93,1)" font-size="11.8" text-anchor="middle">Stress (MPa)</text>
<text transform="translate(364.3,215.3) scale(1.1,1)" font-size="12.5" font-weight="bold" font-style="italic" fill="#141a30" stroke="#141a30" stroke-width="0.4">(C)</text>
<line x1="159.8" y1="176.6" x2="161.4" y2="175.3" stroke="#d8d8d8" stroke-width="0.8"/>
<circle cx="175" cy="175.5" r="1" fill="#f6f6f6" stroke="none"/>
</g></svg>
</body></html>
